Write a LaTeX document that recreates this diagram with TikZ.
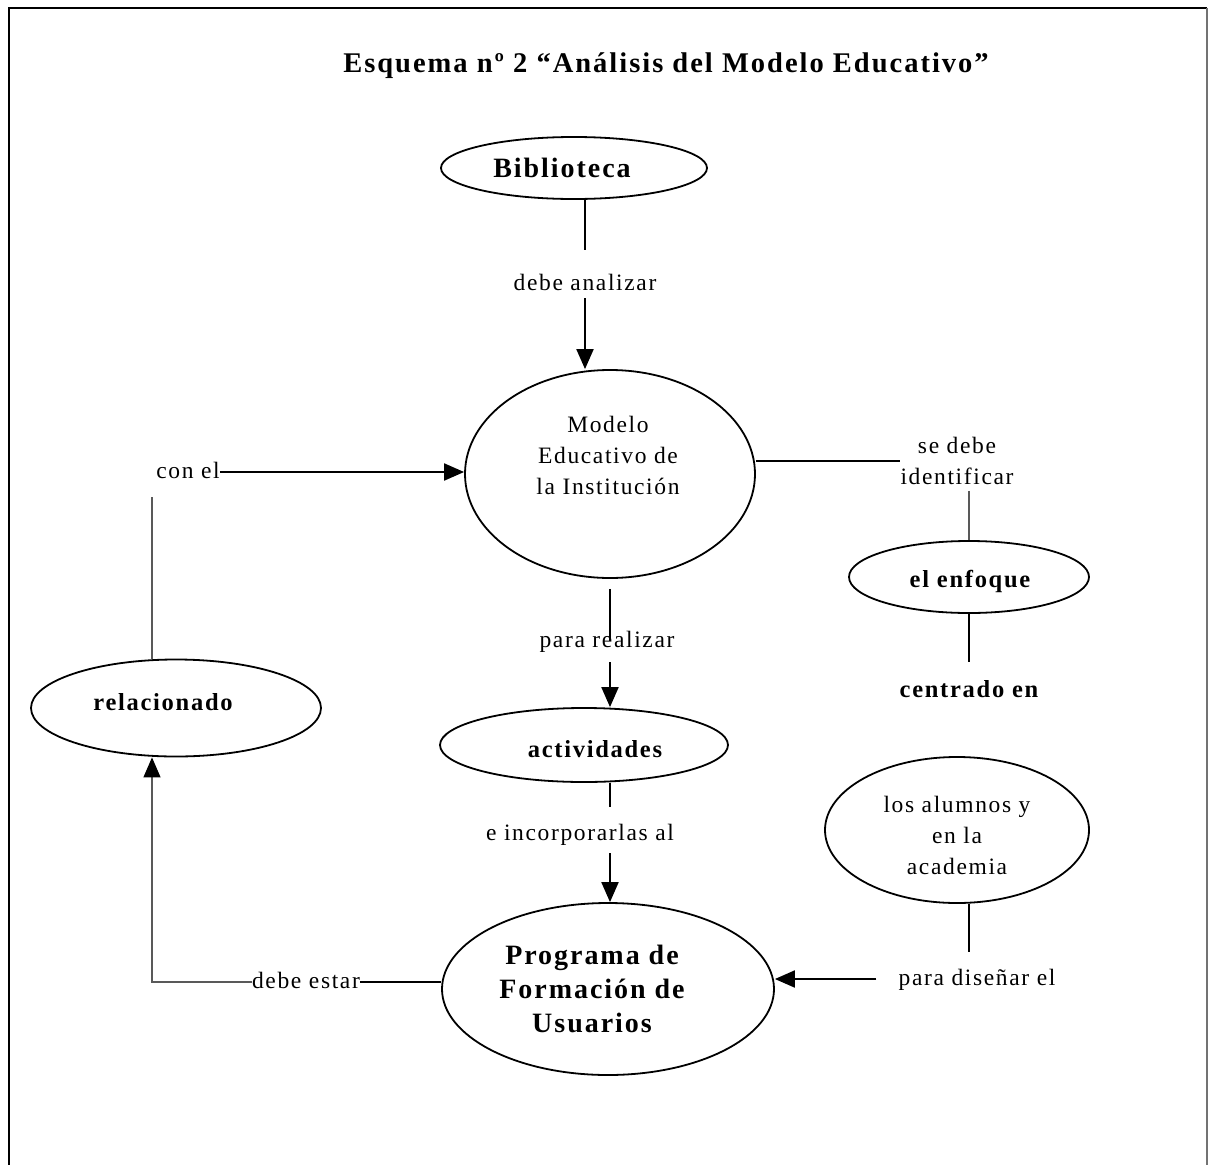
\documentclass[tikz,border=0pt]{standalone}
\usepackage{fontspec}
\setmainfont{Liberation Serif}[LetterSpace=7]
\usetikzlibrary{shapes.geometric,arrows.meta}
\tikzset{
  oval/.style={ellipse, draw, line width=1.8pt, inner sep=0pt},
  lbl/.style={font=\fontsize{23.5}{31}\selectfont, inner sep=0pt, text height=17pt, text depth=5pt},
  blbl/.style={font=\bfseries\fontsize{24.5}{31}\selectfont, inner sep=0pt, text height=17pt, text depth=5pt},
  bigl/.style={font=\bfseries\fontsize{28}{34}\selectfont, inner sep=0pt, align=center},
  mlbl/.style={font=\fontsize{23.5}{31}\selectfont, inner sep=0pt, align=center},
  ln/.style={line width=2pt},
  thinln/.style={line width=1.3pt, draw=black!65},
  arr/.style={line width=2pt, -{Triangle[length=20pt,width=17pt]}},
  thinarr/.style={line width=1.3pt, draw=black!65, -{Triangle[length=20pt,width=17pt,color=black]}},
  frame/.style={line width=2pt}
}
\begin{document}
\begin{tikzpicture}[x=1pt,y=-1pt]
\useasboundingbox (0,0) rectangle (1208,1165);
% frame
\draw[frame] (9,1165) -- (9,8) -- (1207,8);
\draw[line width=1.5pt, draw=black!55] (1207,8) -- (1207,1165);

% title
\node[font=\bfseries\fontsize{28.5}{34}\selectfont, inner sep=0pt, text height=20pt, text depth=6pt] (title) at (666,65) {Esquema nº 2 “Análisis del Modelo Educativo”};

% ellipses
\node[oval, minimum width=266pt, minimum height=62pt] (bib) at (574,168) {};
\node[oval, minimum width=290pt, minimum height=208pt] (modelo) at (610,474) {};
\node[oval, minimum width=240pt, minimum height=72pt] (enf) at (969,577) {};
\node[oval, minimum width=290pt, minimum height=97pt] (rel) at (176,708) {};
\node[oval, minimum width=288pt, minimum height=74pt] (act) at (584,745) {};
\node[oval, minimum width=264pt, minimum height=146pt] (al) at (957,830) {};
\node[oval, minimum width=332pt, minimum height=172pt] (prog) at (608,989) {};

% texts in ellipses
\node[bigl, text height=20pt, text depth=5pt] (bibt) at (562,169.5) {Biblioteca};
\node[mlbl] (modelot) at (608,455) {Modelo\\Educativo de\\la Institución};
\node[blbl] (enft) at (970,581) {el enfoque};
\node[blbl] (relt) at (163,704) {relacionado};
\node[blbl] (actt) at (595,751) {actividades};
\node[mlbl] (alt) at (957,835) {los alumnos y\\en la\\academia};
\node[bigl] (progt) at (592,988.5) {Programa de\\Formación de\\Usuarios};

% connector labels
\node[lbl] (dA) at (585,284) {debe analizar};
\node[lbl] (conel) at (188,472) {con el};
\node[mlbl] (sd) at (957,461) {se debe\\identificar};
\node[blbl] (ce) at (969,691) {centrado en};
\node[lbl] (pr) at (607,641) {para realizar};
\node[lbl] (ei) at (580,834) {e incorporarlas al};
\node[lbl] (de) at (306,982) {debe estar};
\node[lbl] (pd) at (977,979) {para diseñar el};

% Biblioteca -> Modelo
\draw[ln, shorten >=23pt] (dA |- bib.south) -- (dA.north);
\draw[arr, shorten <=3pt] (dA.south) -- (dA.south |- modelo.north);
% con el -> Modelo
\draw[arr] (conel.east) -- (conel.east -| modelo.west);
\draw[thinln, shorten >=14pt] ([xshift=-24pt]rel.north) -- ([xshift=-24pt]rel.north |- conel.south);
% Modelo -> se debe identificar -> enfoque
\draw[ln] (sd.west -| modelo.east) -- (sd.west);
\draw[thinln, shorten <=6pt] (enf.north |- sd.south) -- (enf.north);
\draw[ln, shorten >=18pt] (enf.south) -- (ce.north);
% Modelo -> actividades
\draw[ln] ([yshift=-10pt]modelo.south) -- (modelo.south |- pr.center);
\draw[arr, shorten <=10pt] (modelo.south |- pr.south) -- (modelo.south |- act.north);
% actividades -> Programa
\draw[ln, shorten >=16pt] (modelo.south |- act.south) -- (modelo.south |- ei.north);
\draw[arr, shorten <=8pt] (modelo.south |- ei.south) -- (modelo.south |- prog.north);
% Programa -> relacionado
\draw[ln] (prog.west |- de.east) -- (de.east);
\draw[thinarr] (de.west) -| ([xshift=-24pt]rel.south);
% alumnos -> Programa
\draw[ln, shorten >=16pt] ([xshift=12pt]al.south) -- ([xshift=12pt]al.south |- pd.north);
\draw[arr, shorten <=22pt] (pd.west) -- (pd.west -| prog.east);
\end{tikzpicture}
\end{document}
